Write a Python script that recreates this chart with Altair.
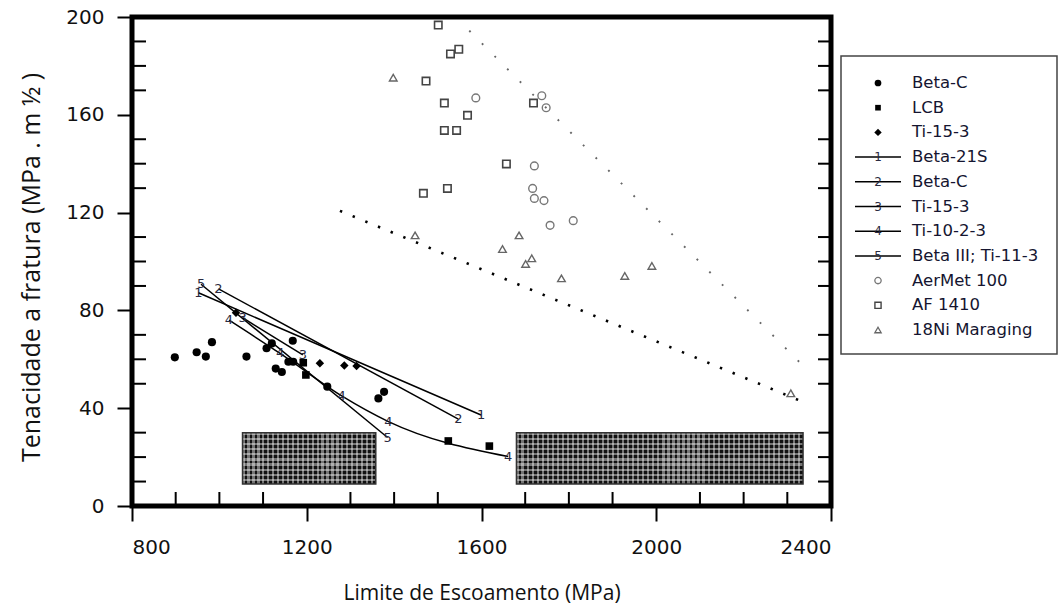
import altair as alt
import pandas as pd

# ---------------- data ----------------
beta_c_x = [898, 948, 969, 983, 1062, 1108, 1120, 1129, 1143, 1158, 1169, 1168, 1247, 1364, 1377]
beta_c_y = [60.8, 62.9, 61.1, 67.0, 61.1, 64.5, 66.5, 56.2, 54.8, 59.0, 59.0, 67.6, 48.8, 44.0, 46.7]

lcb_x = [1192, 1198, 1524, 1618]
lcb_y = [58.6, 53.6, 26.6, 24.5]

ti153_x = [1038, 1230, 1286, 1314]
ti153_y = [79.0, 58.4, 57.5, 57.3]

aermet_x = [1587, 1738, 1748, 1721, 1717, 1721, 1743, 1757, 1810]
aermet_y = [166.9, 167.8, 162.9, 139.1, 129.9, 125.8, 124.9, 114.8, 116.7]

af1410_x = [1501, 1529, 1548, 1473, 1515, 1568, 1515, 1543, 1719, 1657, 1467, 1522]
af1410_y = [196.7, 184.9, 186.8, 173.8, 164.8, 159.8, 153.6, 153.6, 164.8, 139.9, 127.9, 129.9]

maraging_x = [1398, 1448, 1686, 1648, 1715, 1701, 1783, 1928, 1990, 2308]
maraging_y = [175.2, 110.7, 110.7, 105.1, 101.3, 99.0, 93.1, 94.1, 98.2, 46.1]

# fitted trend lines (numbered 1..5)
fit1_x = [952, 1599]
fit1_y = [87.2, 37.2]
fit2_x = [998, 1547]
fit2_y = [88.8, 35.5]
fit3_x = [1053, 1191]
fit3_y = [77.0, 61.8]
fit4_x = [1022, 1139, 1280, 1387, 1661]
fit4_y = [76.0, 62.4, 45.0, 34.5, 20.2]
fit5_x = [958, 1385]
fit5_y = [90.7, 28.0]

# dotted band limits
upper_x = [1572, 2327]
upper_y = [194.4, 59.0]
lower_x = [1276, 2325]
lower_y = [120.7, 43.4]

# hatched boxes
box_x1 = [1053, 1680]
box_x2 = [1358, 2336]
box_y1 = [9, 9]
box_y2 = [30, 30]

x_major = [800, 1200, 1600, 2000, 2400]
y_major = [0, 40, 80, 120, 160, 200]
x_minor = [900, 1000, 1100, 1300, 1400, 1500, 1700, 1800, 1900, 2100, 2200, 2300]
y_minor = [10, 20, 30, 50, 60, 70, 90, 100, 110, 130, 140, 150, 170, 180, 190]

legend_labels = ["Beta-C", "LCB", "Ti-15-3", "Beta-21S", "Beta-C", "Ti-15-3", "Ti-10-2-3",
                 "Beta III; Ti-11-3", "AerMet 100", "AF 1410", "18Ni Maraging"]
legend_kinds = ["bc", "lcb", "ti", "line", "line", "line", "line", "line", "aer", "af", "mar"]
legend_digits = ["", "", "", "1", "2", "3", "4", "5", "", "", ""]

# ---------------- frames ----------------
def pts(xs, ys):
    return pd.DataFrame({"x": xs, "y": ys})

fits = pd.concat([
    pd.DataFrame({"x": fx, "y": fy, "fit": str(i + 1), "digit": str(i + 1)})
    for i, (fx, fy) in enumerate([(fit1_x, fit1_y), (fit2_x, fit2_y), (fit3_x, fit3_y),
                                   (fit4_x, fit4_y), (fit5_x, fit5_y)])
], ignore_index=True)

boxes = pd.DataFrame({"x": box_x1, "x2": box_x2, "y": box_y1, "y2": box_y2,
                      "idx": list(range(len(box_x1)))})

legend_df = pd.DataFrame({"row": list(range(len(legend_labels))), "label": legend_labels,
                          "kind": legend_kinds, "digit": legend_digits})

# ---------------- encodings ----------------
X = alt.X("x:Q", scale=alt.Scale(domain=[800, 2400], nice=False, zero=False),
          axis=alt.Axis(values=x_major, format="d", title="Limite de Escoamento (MPa)", labelPadding=16,
                        titleY=87, titleBaseline="middle"))
Y = alt.Y("y:Q", scale=alt.Scale(domain=[0, 200], nice=False),
          axis=alt.Axis(values=y_major, format="d", title="Tenacidade a fratura (MPa  .  m  ½ )",
                        labelPadding=13, titleFontSize=25,
                        titleAngle=270, titleX=-101, titleY=250, titleBaseline="middle"))


# crosshatch texture for the boxes (style only): stripes via sharp-stop gradients
def stripe_fill(n, vertical_stripes, alpha):
    stops = []
    on = f"rgba(255,255,255,{alpha})"
    off = "rgba(255,255,255,0)"
    for k in range(n):
        a, b, c = k / n, (k + 0.45) / n, (k + 1) / n
        stops += [{"offset": a, "color": on}, {"offset": b, "color": on},
                  {"offset": b, "color": off}, {"offset": c, "color": off}]
    if vertical_stripes:
        return {"gradient": "linear", "x1": 0, "y1": 0, "x2": 1, "y2": 0, "stops": stops}
    return {"gradient": "linear", "x1": 0, "y1": 0, "x2": 0, "y2": 1, "stops": stops}


box_enc = dict(x=X, x2="x2:Q", y=Y, y2="y2:Q")
box_base = alt.Chart(boxes).mark_rect(fill="#111111").encode(**box_enc)
box_tex = []
for i, ncols in enumerate([27, 57]):
    sub = alt.Chart(boxes).transform_filter(f"datum.idx == {i}")
    box_tex.append(sub.mark_rect(fill=stripe_fill(ncols, True, 0.42)).encode(**box_enc))
    box_tex.append(sub.mark_rect(fill=stripe_fill(10, False, 0.42)).encode(**box_enc))
box_outline = alt.Chart(boxes).mark_rect(fill="transparent", stroke="#333333", strokeWidth=1.5).encode(**box_enc)

upper_layer = alt.Chart(pts(upper_x, upper_y)).mark_line(
    color="#666666", strokeWidth=1.9, strokeDash=[1.9, 16.0]).encode(x=X, y=Y)
lower_layer = alt.Chart(pts(lower_x, lower_y)).mark_line(
    color="black", strokeWidth=2.6, strokeDash=[2.4, 11.3]).encode(x=X, y=Y)

fit_lines = alt.Chart(fits).mark_line(color="black", strokeWidth=1.5, interpolate="monotone").encode(
    x=X, y=Y, detail="fit:N")
fit_digits = alt.Chart(fits).mark_text(font="DejaVu Sans", fontSize=13, color="#2a2a40",
                                       align="center", baseline="middle").encode(
    x=X, y=Y, text="digit:N")

beta_c_layer = alt.Chart(pts(beta_c_x, beta_c_y)).mark_point(
    shape="circle", filled=True, color="black", size=66, opacity=1).encode(x=X, y=Y)
lcb_layer = alt.Chart(pts(lcb_x, lcb_y)).mark_point(
    shape="square", filled=True, color="black", size=58, opacity=1).encode(x=X, y=Y)
ti_layer = alt.Chart(pts(ti153_x, ti153_y)).mark_point(
    shape="diamond", filled=True, color="black", size=72, opacity=1).encode(x=X, y=Y)
aer_layer = alt.Chart(pts(aermet_x, aermet_y)).mark_point(
    shape="circle", filled=False, color="#777777", strokeWidth=1.4, size=60, opacity=1).encode(x=X, y=Y)
af_layer = alt.Chart(pts(af1410_x, af1410_y)).mark_point(
    shape="square", filled=False, color="#444444", strokeWidth=1.6, size=55, opacity=1).encode(x=X, y=Y)
mar_layer = alt.Chart(pts(maraging_x, maraging_y)).mark_point(
    shape="triangle-up", filled=False, color="#666666", strokeWidth=1.4, size=58, opacity=1).encode(x=X, y=Y)

# inward minor ticks
ymin_df = pd.DataFrame({"y": y_minor})
xmin_df = pd.DataFrame({"x": x_minor})
left_minor = alt.Chart(ymin_df).mark_rule(color="black", strokeWidth=2).encode(
    y=Y, x=alt.value(0), x2=alt.value(14))
right_minor = alt.Chart(ymin_df).mark_rule(color="black", strokeWidth=2).encode(
    y=Y, x=alt.value(686), x2=alt.value(699))
bottom_minor = alt.Chart(xmin_df).mark_rule(color="black", strokeWidth=2).encode(
    x=X, y=alt.value(475), y2=alt.value(489))

main = alt.layer(box_base, *box_tex, box_outline, upper_layer, lower_layer, fit_lines, fit_digits,
                 beta_c_layer, lcb_layer, ti_layer, aer_layer, af_layer, mar_layer,
                 left_minor, right_minor, bottom_minor)

# ---------------- legend ----------------
R = alt.Y("row:Q", scale=alt.Scale(domain=[0, 10], range=[66, 313]), axis=None)
leg_box = alt.Chart(legend_df.head(1)).mark_rect(fill="white", stroke="#444444", strokeWidth=1.5).encode(
    x=alt.value(709), x2=alt.value(925), y=alt.value(39), y2=alt.value(337))
leg_lines = alt.Chart(legend_df).transform_filter("datum.kind == 'line'").mark_rule(
    color="black", strokeWidth=1.5).encode(x=alt.value(723), x2=alt.value(769), y=R)
leg_digits = alt.Chart(legend_df).transform_filter("datum.kind == 'line'").mark_text(
    font="DejaVu Sans", fontSize=12, color="#2a2a40", align="center", baseline="middle").encode(
    x=alt.value(746), y=R, text="digit:N")


def leg_sym(kind, **kw):
    return alt.Chart(legend_df).transform_filter(f"datum.kind == '{kind}'").mark_point(
        opacity=1, **kw).encode(x=alt.value(746), y=R)


leg_syms = [
    leg_sym("bc", shape="circle", filled=True, color="black", size=45),
    leg_sym("lcb", shape="square", filled=True, color="black", size=32),
    leg_sym("ti", shape="diamond", filled=True, color="black", size=55),
    leg_sym("aer", shape="circle", filled=False, color="#777777", strokeWidth=1.3, size=40),
    leg_sym("af", shape="square", filled=False, color="#444444", strokeWidth=1.4, size=38),
    leg_sym("mar", shape="triangle-up", filled=False, color="#666666", strokeWidth=1.3, size=40),
]
leg_text = alt.Chart(legend_df).mark_text(font="DejaVu Sans", fontSize=16.5, color="#151530",
                                          align="left", baseline="middle").encode(
    x=alt.value(780), y=R, text="label:N")

legend = alt.layer(leg_box, leg_lines, leg_digits, *leg_syms, leg_text)

chart = alt.layer(main, legend).resolve_scale(y="independent").properties(
    width=699, height=489,
    autosize=alt.AutoSizeParams(type="none"),
    padding={"left": 132, "top": 17, "right": 228, "bottom": 108},
).configure_view(
    stroke="black", strokeWidth=5
).configure_axis(
    domain=False, grid=False,
    labelFont="DejaVu Sans", labelFontSize=20, labelColor="#111111",
    tickColor="black", tickWidth=2, tickSize=15,
    titleFont="Open Sans", titleFontSize=21, titleFontWeight="normal", titleColor="#111111",
)

chart.save("out.html", embed_options={"renderer": "svg", "actions": False})
